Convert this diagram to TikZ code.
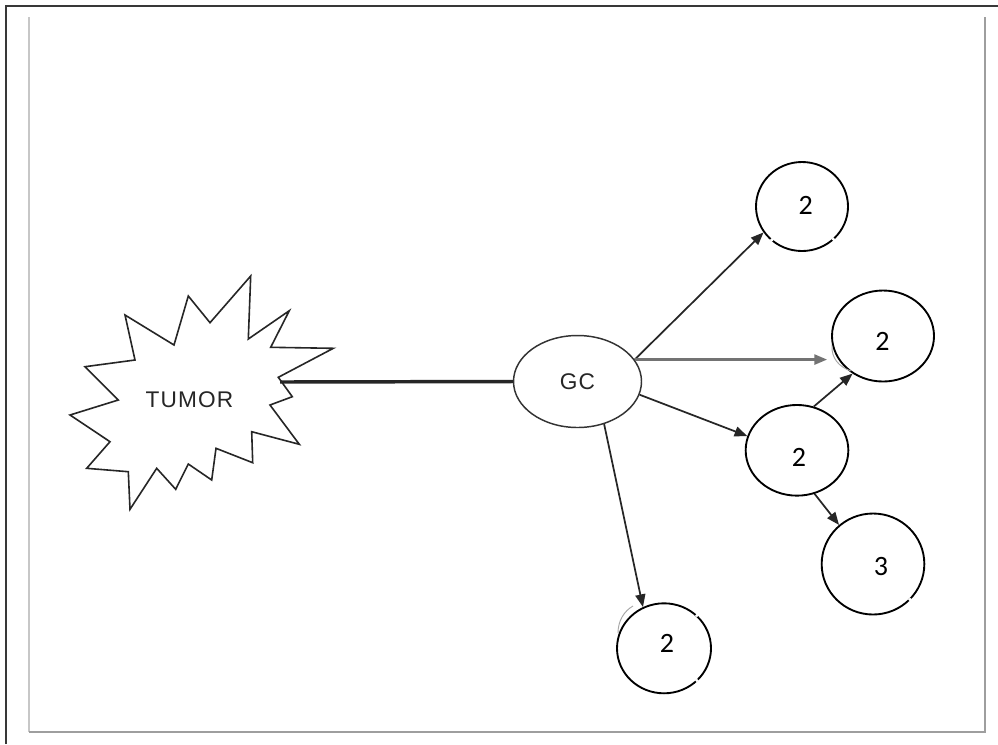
\documentclass[tikz,border=0pt]{standalone}
\usepackage{fontspec}
\setmainfont{Liberation Sans}
\newfontfamily\labelfont[LetterSpace=5]{Liberation Sans}
\newfontfamily\numfont{Carlito}
\usetikzlibrary{arrows.meta,shapes.geometric}

\tikzset{
  framedark/.style={line width=1.9pt, draw=black!78},
  framelight/.style={line width=1.5pt, draw=black!22},
  framemid/.style={line width=1.7pt, draw=black!38},
  starline/.style={line width=1.2pt, draw=black!85, line join=miter},
  gcnode/.style={draw=black!80, line width=1.1pt, ellipse, inner sep=0pt,
    minimum width=96pt, minimum height=69pt,
    font=\labelfont\fontsize{17}{18}\selectfont, text=black!85},
  circnode/.style={draw=black, line width=1.4pt, ellipse, inner sep=0pt},
  numtext/.style={font=\numfont\fontsize{21}{22}\selectfont, inner sep=0pt},
  tumortext/.style={font=\labelfont\fontsize{17}{18}\selectfont, text=black!85, inner sep=0pt},
  arr/.style={line width=1.3pt, draw=black!85,
    -{Triangle[length=9.5pt, width=7.5pt]}},
  arrgray/.style={arr, line width=1.7pt, draw=black!55},
  bond/.style={line width=2.6pt, draw=black!85},
  gap/.style={fill=white},
  ghost/.style={draw=black!35, line width=0.7pt},
}

\begin{document}
\begin{tikzpicture}[x=0.75pt, y=-0.75pt]
\useasboundingbox (0,0) rectangle (998,744);
\fill[white] (0,0) rectangle (998,744);

% page frame
\draw[framedark] (6.2,744) -- (6.2,6.2) -- (998,6.2);
\draw[framelight] (29,17) -- (29,732);
\draw[framemid] (29,732) -- (985,732) -- (985,17);

% tumour outline
\draw[starline] (250.7,276) -- (248.3,339) -- (289.3,310.7) -- (270.7,347.3)
  -- (333.3,348.3) -- (278.3,377.3) -- (292.3,396.7) -- (270,405)
  -- (299.3,444.3) -- (251.7,431.7) -- (252.7,462.7) -- (216,448.3)
  -- (211.7,480) -- (188.3,464) -- (175.7,489.3) -- (156.7,468.3)
  -- (130,509.3) -- (128.3,471.7) -- (86.7,468.3) -- (110,441.7)
  -- (70,415) -- (118.3,400) -- (85,366.7) -- (135,360) -- (125,315)
  -- (174,345) -- (188.3,296) -- (210,322.7) -- cycle;
\node[tumortext] (tumor) at (189.5,400) {TUMOR};
\coordinate (tumorR) at (280,382);

% central node
\node[gcnode] (gc) at (577.5,381.5) {GC};

% target circles
\node[circnode, minimum width=69pt, minimum height=66.75pt] (c1) at (802,206.5) {};
\node[circnode, minimum width=76.5pt, minimum height=68.25pt] (c2) at (883,336) {};
\node[circnode, minimum width=77pt, minimum height=68pt] (c3) at (797,450.3) {};
\node[circnode, minimum width=77pt, minimum height=75.75pt] (c4) at (873,564) {};
\node[circnode, minimum width=70.5pt, minimum height=67.5pt] (c5) at (664,648.3) {};

% faint outlines behind two circles
\draw[ghost] (832,345) .. controls (831,358) and (839,367) .. (851,371);
\draw[ghost] (633,606) .. controls (624,611) and (618,621) .. (618,633);

% small breaks in the circle outlines
\fill[gap] (771.7,240) circle (1.8);
\fill[gap] (833.3,239.2) circle (1.8);
\fill[gap] (910,599.5) circle (1.8);
\fill[gap] (696.9,615.5) circle (1.8);
\fill[gap] (696.9,680.5) circle (1.8);

% circle labels
\node[numtext] (t1) at (805.8,205) {2};
\node[numtext] (t2) at (882.5,341.7) {2};
\node[numtext] (t3) at (799,457.5) {2};
\node[numtext] (t4) at (881,566.7) {3};
\node[numtext] (t5) at (667,643) {2};

% connections
\draw[bond] (tumorR) -- (gc.west);
\draw[arr] (gc.21) -- (c1.214);
\draw[arrgray] (gc.21) -- ([xshift=-3pt]gc.21 -| c2.west);
\draw[arr] (gc.-12) -- (c3.164);
\draw[arr] (c3.69) -- (c2.231);
\draw[arr] (c3.-68) -- (c4.131);
\draw[arr] (gc.-58) -- (c5.117);
\end{tikzpicture}
\end{document}
